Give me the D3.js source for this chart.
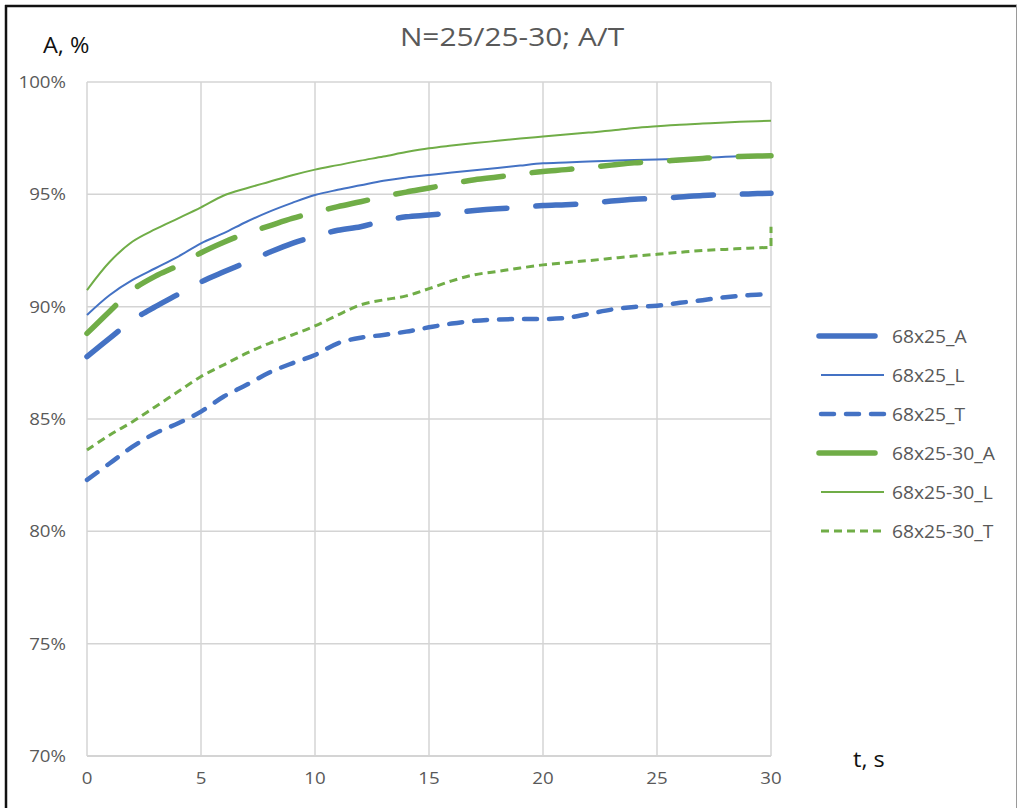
<!DOCTYPE html>
<html>
<head>
<meta charset="utf-8">
<script src="https://cdn.jsdelivr.net/npm/d3@7"></script>
<style>
    body { margin: 0; background: #fff; }
    svg text { font-family: "Open Sans", sans-serif; }
</style>
</head>
<body>
<div id="chart"></div>
<script>
// time, s
const seconds = [0, 1, 2, 3, 4, 5, 6, 7, 8, 9, 10, 11, 12, 13, 14, 15, 16, 17, 18, 19, 20, 21, 22, 23, 24, 25, 26, 27, 28, 29, 30];
// 68x25-30_T has one extra reading at the end
const secondsT30 = seconds.concat([30]);

const a68x25 = [87.78, 88.6, 89.4, 90.0, 90.55, 91.1, 91.55, 91.98, 92.42, 92.82, 93.13, 93.4, 93.56, 93.82, 94.0, 94.08, 94.18, 94.28, 94.36, 94.42, 94.5, 94.54, 94.6, 94.7, 94.78, 94.82, 94.88, 94.95, 94.99, 95.02, 95.05];
const l68x25 = [89.63, 90.52, 91.19, 91.71, 92.23, 92.82, 93.27, 93.78, 94.23, 94.62, 94.97, 95.2, 95.4, 95.6, 95.75, 95.86, 95.97, 96.07, 96.17, 96.28, 96.38, 96.42, 96.46, 96.5, 96.53, 96.55, 96.58, 96.62, 96.67, 96.72, 96.76];
const t68x25 = [82.29, 83.03, 83.77, 84.37, 84.81, 85.33, 86.0, 86.52, 87.07, 87.48, 87.85, 88.37, 88.62, 88.74, 88.89, 89.08, 89.25, 89.37, 89.43, 89.45, 89.45, 89.5, 89.68, 89.87, 89.99, 90.04, 90.17, 90.29, 90.42, 90.51, 90.56];
const a68x25_30 = [88.81, 89.8, 90.75, 91.36, 91.83, 92.4, 92.87, 93.27, 93.6, 93.93, 94.2, 94.45, 94.67, 94.9, 95.1, 95.28, 95.47, 95.65, 95.77, 95.9, 96.02, 96.1, 96.2, 96.3, 96.4, 96.46, 96.53, 96.6, 96.66, 96.69, 96.72];
const l68x25_30 = [90.74, 92.0, 92.9, 93.45, 93.93, 94.42, 94.95, 95.27, 95.56, 95.85, 96.1, 96.3, 96.5, 96.68, 96.88, 97.05, 97.17, 97.28, 97.38, 97.48, 97.57, 97.66, 97.75, 97.84, 97.95, 98.03, 98.1, 98.15, 98.2, 98.24, 98.28];
const t68x25_30 = [83.62, 84.29, 84.88, 85.55, 86.22, 86.89, 87.41, 87.93, 88.37, 88.74, 89.14, 89.63, 90.08, 90.3, 90.48, 90.8, 91.15, 91.42, 91.57, 91.72, 91.86, 91.96, 92.05, 92.15, 92.25, 92.33, 92.42, 92.5, 92.55, 92.6, 92.64, 93.56];

const seriesNames = ["68x25_A", "68x25_L", "68x25_T", "68x25-30_A", "68x25-30_L", "68x25-30_T"];
const xTicks = [0, 5, 10, 15, 20, 25, 30];
const yTicks = [70, 75, 80, 85, 90, 95, 100];

const blue = "#4472c4";
const green = "#70ad47";
const grey = "#595959";

// line styles per series (colour, width, dash)
const styles = {
    "68x25_A":    { color: blue,  width: 5.5, dash: "40,29", cap: "round" },
    "68x25_L":    { color: blue,  width: 2,   dash: null,    cap: "butt" },
    "68x25_T":    { color: blue,  width: 4.5, dash: "13,12", cap: "round" },
    "68x25-30_A": { color: green, width: 5.5, dash: "40,29", cap: "round" },
    "68x25-30_L": { color: green, width: 2,   dash: null,    cap: "butt" },
    "68x25-30_T": { color: green, width: 3,   dash: "8,5",   cap: "butt" }
};

const series = [
    { name: seriesNames[0], t: seconds, v: a68x25 },
    { name: seriesNames[1], t: seconds, v: l68x25 },
    { name: seriesNames[2], t: seconds, v: t68x25 },
    { name: seriesNames[3], t: seconds, v: a68x25_30 },
    { name: seriesNames[4], t: seconds, v: l68x25_30 },
    { name: seriesNames[5], t: secondsT30, v: t68x25_30 }
];

const width = 1018, height = 808;
const margin = { left: 87, right: 247, top: 82, bottom: 52 };

const svg = d3.select("#chart")
    .append("svg")
    .attr("width", width)
    .attr("height", height);

const x = d3.scaleLinear().domain([0, 30]).range([margin.left, width - margin.right]);
const y = d3.scaleLinear().domain([70, 100]).range([height - margin.bottom, margin.top]);

// frame
svg.append("line").attr("x1", 5).attr("x2", 1017).attr("y1", 6).attr("y2", 6)
    .attr("stroke", "#111").attr("stroke-width", 2.5);
svg.append("line").attr("x1", 6).attr("x2", 6).attr("y1", 5).attr("y2", height)
    .attr("stroke", "#111").attr("stroke-width", 2.5);
svg.append("line").attr("x1", 1016.5).attr("x2", 1016.5).attr("y1", 5).attr("y2", height)
    .attr("stroke", "#9a9a9a").attr("stroke-width", 1);

// gridlines
svg.append("g")
    .selectAll("line")
    .data(yTicks)
    .join("line")
    .attr("x1", x(0)).attr("x2", x(30))
    .attr("y1", d => y(d)).attr("y2", d => y(d))
    .attr("stroke", "#d4d4d4").attr("stroke-width", d => d == 70 ? 2 : 1.5);

svg.append("g")
    .selectAll("line")
    .data(xTicks)
    .join("line")
    .attr("x1", d => x(d)).attr("x2", d => x(d))
    .attr("y1", y(70)).attr("y2", y(100))
    .attr("stroke", "#d4d4d4").attr("stroke-width", 1.5);

// tick labels (text is a bit wide in the original, so stretch it)
svg.append("g")
    .selectAll("text")
    .data(yTicks)
    .join("text")
    .attr("transform", d => `translate(66,${y(d) + 6}) scale(1.1,1)`)
    .attr("text-anchor", "end")
    .attr("font-size", 17)
    .attr("fill", grey)
    .text(d => d + "%");

svg.append("g")
    .selectAll("text")
    .data(xTicks)
    .join("text")
    .attr("transform", d => `translate(${x(d)},784) scale(1.1,1)`)
    .attr("text-anchor", "middle")
    .attr("font-size", 17)
    .attr("fill", grey)
    .text(d => d);

// titles
svg.append("text")
    .attr("transform", "translate(512,46) scale(1.17,1)")
    .attr("text-anchor", "middle")
    .attr("font-size", 25.5)
    .attr("fill", grey)
    .text("N=25/25-30; A/T");

svg.append("text")
    .attr("transform", "translate(43,53) scale(1.12,1)")
    .attr("font-size", 21)
    .attr("fill", "#111")
    .text("A, %");

svg.append("text")
    .attr("transform", "translate(853,767) scale(1.12,1)")
    .attr("font-size", 21)
    .attr("fill", "#111")
    .text("t, s");

// curves: smooth through the readings, but a reading repeated at the
// same time (the jump at the end of 68x25-30_T) is joined straight
const smooth = d3.line()
    .curve(d3.curveCatmullRom.alpha(0.5))
    .x(d => x(d[0]))
    .y(d => y(d[1]));

function curvePath(s) {
    const pts = s.t.map((t, i) => [t, s.v[i]]);
    let n = pts.length;
    while (n > 1 && pts[n - 1][0] == pts[n - 2][0]) n--;
    let d = smooth(pts.slice(0, n));
    for (let i = n; i < pts.length; i++) {
        d += "L" + x(pts[i][0]) + "," + y(pts[i][1]);
    }
    return d;
}

svg.append("g")
    .selectAll("path")
    .data(series)
    .join("path")
    .attr("d", curvePath)
    .attr("fill", "none")
    .attr("stroke", s => styles[s.name].color)
    .attr("stroke-width", s => styles[s.name].width)
    .attr("stroke-dasharray", s => styles[s.name].dash)
    .attr("stroke-linecap", s => styles[s.name].cap)
    .attr("stroke-linejoin", "round");

// legend
const legend = svg.append("g")
    .selectAll("g")
    .data(seriesNames)
    .join("g")
    .attr("transform", (d, i) => `translate(0,${336 + i * 39})`);

legend.append("line")
    .attr("x1", d => d.endsWith("_A") ? 819 : 821)
    .attr("x2", d => d.endsWith("_A") ? 875 : 884)
    .attr("y1", 0).attr("y2", 0)
    .attr("stroke", d => styles[d].color)
    .attr("stroke-width", d => styles[d].width)
    .attr("stroke-dasharray", d => d.endsWith("_A") ? null : styles[d].dash)
    .attr("stroke-linecap", d => styles[d].cap);

legend.append("text")
    .attr("transform", "translate(892,6.5) scale(1.1,1)")
    .attr("font-size", 17.5)
    .attr("fill", grey)
    .text(d => d);
</script>
</body>
</html>
